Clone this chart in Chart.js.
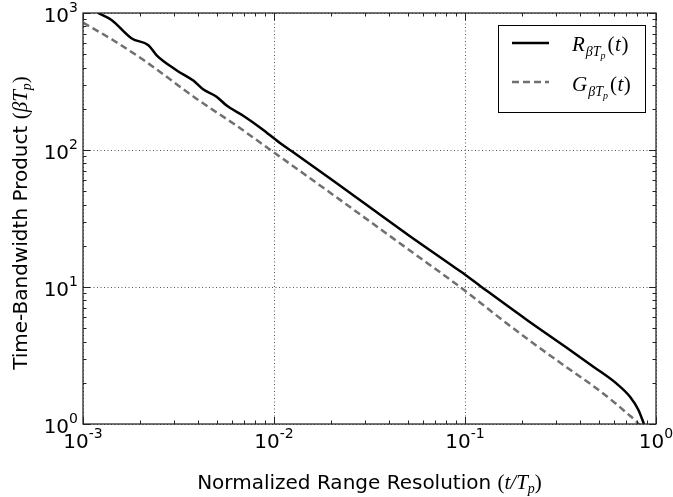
<!DOCTYPE html>
<html>
<head>
<meta charset="utf-8">
<script src="https://cdn.jsdelivr.net/npm/chart.js@4/dist/chart.umd.min.js"></script>
<style>
  html, body { margin: 0; background: #fff; }
  #wrap { width: 673px; height: 497px; }
</style>
</head>
<body>
<div id="wrap"><canvas id="c"></canvas></div>
<script>
// ---------- data ----------
const rT = [1.2e-3, 1.41e-3, 1.8e-3, 2.2e-3, 2.43e-3, 3.1e-3, 3.78e-3, 4.27e-3, 5.0e-3, 5.65e-3,
            6.9e-3, 8.62e-3, 1.07e-2, 1.24e-2, 2e-2, 5e-2, 0.0953, 0.121, 0.211, 0.314,
            0.47, 0.622, 0.731, 0.808, 0.865];
const rV = [1000, 889, 651, 582, 491, 381, 321, 276, 245, 211,
            178, 143, 113, 98, 61, 24.2, 12.9, 10.1, 5.75, 3.9,
            2.62, 1.97, 1.58, 1.27, 1.0];

const gT = [1.0e-3, 1.44e-3, 2.15e-3, 3.94e-3, 6.38e-3, 9.5e-3, 2e-2, 5e-2, 0.1, 0.142,
            0.211, 0.314, 0.47, 0.608, 0.714, 0.78, 0.83];
const gV = [850, 633, 438, 236, 150, 101, 48, 19, 9.4, 6.4,
            4.2, 2.81, 1.89, 1.43, 1.18, 1.06, 0.97];

const xTicks = [1e-3, 1e-2, 1e-1, 1];
const xExp = ['-3', '-2', '-1', '0'];
const yTicks = [1, 10, 100, 1000];
const yExp = ['0', '1', '2', '3'];

const SANS = '"DejaVu Sans", sans-serif';
const SERIF = '"Liberation Serif", "DejaVu Serif", serif';
const GRAY = '#707070';

// minor tick values 2..9 per decade
function minors(ticks) {
  const out = [];
  for (let i = 0; i < ticks.length - 1; i++)
    for (let k = 2; k <= 9; k++) out.push(ticks[i] * k);
  return out;
}

// text runs with mixed fonts
function runsWidth(ctx, runs) {
  let w = 0;
  for (const r of runs) { ctx.font = r.f; w += ctx.measureText(r.t).width + (r.k || 0); }
  return w;
}
function drawRuns(ctx, runs, x, y) {
  for (const r of runs) {
    ctx.font = r.f;
    ctx.fillText(r.t, x, y + (r.dy || 0));
    x += ctx.measureText(r.t).width + (r.k || 0);
  }
}
function powRuns(exp) {
  return [{ t: '10', f: '20px ' + SANS }, { t: exp, f: '14px ' + SANS, dy: -10 }];
}

const decorPlugin = {
  id: 'decor',
  afterDraw(chart) {
    const { ctx, chartArea: a, scales: { x, y } } = chart;
    ctx.save();
    ctx.fillStyle = '#000';
    ctx.strokeStyle = '#000';
    ctx.textAlign = 'left';
    ctx.textBaseline = 'alphabetic';

    // frame
    ctx.lineWidth = 1.25;
    ctx.strokeStyle = '#222';
    ctx.strokeRect(a.left, a.top, a.right - a.left, a.bottom - a.top);

    // inward ticks on all four sides
    ctx.lineWidth = 1;
    ctx.beginPath();
    const xt = xTicks.map(v => [v, 7]).concat(minors(xTicks).map(v => [v, 3.5]));
    for (const [v, len] of xt) {
      const px = Math.round(x.getPixelForValue(v)) + 0.5;
      ctx.moveTo(px, a.bottom); ctx.lineTo(px, a.bottom - len);
      ctx.moveTo(px, a.top); ctx.lineTo(px, a.top + len);
    }
    const yt = yTicks.map(v => [v, 7]).concat(minors(yTicks).map(v => [v, 3.5]));
    for (const [v, len] of yt) {
      const py = Math.round(y.getPixelForValue(v)) + 0.5;
      ctx.moveTo(a.left, py); ctx.lineTo(a.left + len, py);
      ctx.moveTo(a.right, py); ctx.lineTo(a.right - len, py);
    }
    ctx.stroke();

    // tick labels
    ctx.fillStyle = '#000';
    xTicks.forEach((v, i) => {
      const runs = powRuns(xExp[i]);
      const w = runsWidth(ctx, runs);
      drawRuns(ctx, runs, x.getPixelForValue(v) - w / 2, a.bottom + 24);
    });
    yTicks.forEach((v, i) => {
      const runs = powRuns(yExp[i]);
      const w = runsWidth(ctx, runs);
      drawRuns(ctx, runs, a.left - 5 - w, y.getPixelForValue(v) + 9);
    });

    // axis titles
    const xTitle = [
      { t: 'Normalized Range Resolution ', f: '20px ' + SANS },
      { t: '(', f: '21px ' + SERIF },
      { t: 't/T', f: 'italic 21px ' + SERIF },
      { t: 'p', f: 'italic 14px ' + SERIF, dy: 4 },
      { t: ')', f: '21px ' + SERIF }
    ];
    const xw = runsWidth(ctx, xTitle);
    drawRuns(ctx, xTitle, (a.left + a.right) / 2 - xw / 2, a.bottom + 65);

    const yTitle = [
      { t: 'Time-Bandwidth Product ', f: '20px ' + SANS },
      { t: '(', f: '21px ' + SERIF },
      { t: 'βT', f: 'italic 21px ' + SERIF },
      { t: 'p', f: 'italic 14px ' + SERIF, dy: 4 },
      { t: ')', f: '21px ' + SERIF }
    ];
    const yw = runsWidth(ctx, yTitle);
    ctx.save();
    ctx.translate(27, 223);
    ctx.rotate(-Math.PI / 2);
    drawRuns(ctx, yTitle, -yw / 2, 0);
    ctx.restore();

    // legend
    const bx = a.right - 158, by = a.top + 12, bw = 147, bh = 87;
    ctx.fillStyle = '#fff';
    ctx.fillRect(bx, by, bw, bh);
    ctx.lineWidth = 1;
    ctx.strokeStyle = '#000';
    ctx.strokeRect(bx + 0.5, by + 0.5, bw, bh);

    ctx.lineWidth = 2.5;
    ctx.beginPath();
    ctx.moveTo(bx + 14, by + 18); ctx.lineTo(bx + 51, by + 18);
    ctx.stroke();
    ctx.strokeStyle = GRAY;
    ctx.setLineDash([7, 4]);
    ctx.beginPath();
    ctx.moveTo(bx + 14, by + 57); ctx.lineTo(bx + 51, by + 57);
    ctx.stroke();
    ctx.setLineDash([]);

    ctx.fillStyle = '#000';
    const leg = (letter) => [
      { t: letter, f: 'italic 21px ' + SERIF, k: 1 },
      { t: 'βT', f: 'italic 14px ' + SERIF, dy: 5 },
      { t: 'p', f: 'italic 10px ' + SERIF, dy: 8, k: 2 },
      { t: '(', f: '21px ' + SERIF, k: 0.5 },
      { t: 't', f: 'italic 21px ' + SERIF, k: 0.5 },
      { t: ')', f: '21px ' + SERIF }
    ];
    drawRuns(ctx, leg('R'), bx + 74, by + 26);
    drawRuns(ctx, leg('G'), bx + 74, by + 66);

    ctx.restore();
  }
};

const majorOnly = (vals) => (scale) => { scale.ticks = vals.map(v => ({ value: v })); };

new Chart(document.getElementById('c'), {
  type: 'line',
  data: {
    datasets: [
      {
        label: 'R',
        data: rT.map((t, i) => ({ x: t, y: rV[i] })),
        borderColor: '#000',
        borderWidth: 2.5,
        pointRadius: 0,
        cubicInterpolationMode: 'monotone',
        fill: false
      },
      {
        label: 'G',
        data: gT.map((t, i) => ({ x: t, y: gV[i] })),
        borderColor: GRAY,
        borderWidth: 2.5,
        borderDash: [7, 4],
        pointRadius: 0,
        cubicInterpolationMode: 'monotone',
        fill: false
      }
    ]
  },
  options: {
    responsive: true,
    maintainAspectRatio: false,
    animation: false,
    layout: { padding: { left: 83, right: 17, top: 13, bottom: 73 } },
    plugins: { legend: { display: false }, tooltip: { enabled: false } },
    scales: {
      x: {
        type: 'logarithmic',
        min: 1e-3,
        max: 1,
        afterBuildTicks: majorOnly(xTicks),
        ticks: { display: false },
        grid: { color: '#555', lineWidth: 1, drawTicks: false },
        border: { display: false, dash: [1, 2.5] }
      },
      y: {
        type: 'logarithmic',
        min: 1,
        max: 1000,
        afterBuildTicks: majorOnly(yTicks),
        ticks: { display: false },
        grid: { color: '#555', lineWidth: 1, drawTicks: false },
        border: { display: false, dash: [1, 2.5] }
      }
    }
  },
  plugins: [decorPlugin]
});
</script>
</body>
</html>
